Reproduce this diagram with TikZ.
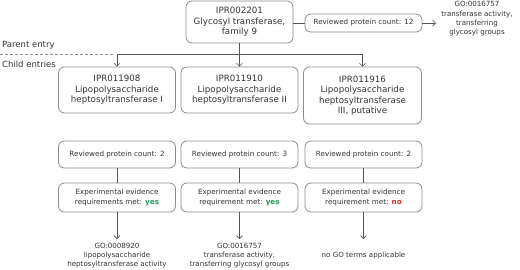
\documentclass[tikz,border=0pt]{standalone}
\usepackage{fontspec}
\setmainfont{DejaVu Sans}
\usetikzlibrary{arrows.meta}
\definecolor{boxgray}{HTML}{8C8C8C}
\definecolor{linegray}{HTML}{555555}
\definecolor{txt}{HTML}{333333}
\definecolor{yesgreen}{HTML}{1E9E5A}
\definecolor{nored}{HTML}{D0312D}
\begin{document}
\begin{tikzpicture}[x=1pt,y=-1pt,
 box/.style={draw=boxgray, line width=0.8pt, rounded corners=6pt, align=center, text=txt, inner sep=0pt},
 big/.style={box, font=\fontsize{8.7}{10.5}\selectfont},
 small/.style={box, font=\fontsize{7.2}{10}\selectfont},
 gotext/.style={align=center, text=txt, font=\fontsize{7.1}{9}\selectfont, inner sep=0pt},
 lbl/.style={anchor=west, text=txt, font=\fontsize{8.5}{10}\selectfont, inner sep=0pt},
 conn/.style={draw=linegray, line width=0.6pt},
 arr/.style={conn, -{Straight Barb[length=3pt,width=6pt]}},
]
\useasboundingbox (0,0) rectangle (520,269);

% parent
\node[big, minimum width=107pt, minimum height=42pt] (top) at (239.5,22) {IPR002201\\Glycosyl transferase,\\family 9};
\node[small, minimum width=117pt, minimum height=18pt] (rev12) at (363.5,23) {Reviewed protein count: 12};
\node[gotext, font=\fontsize{7.1}{9.3}\selectfont] (go0) at (477,19) {GO:0016757\\transferase activity,\\transferring\\glycosyl groups};
\coordinate (goin) at (436,23);
\draw[conn] (top.east |- rev12.west) -- (rev12.west);
\draw[arr] (rev12.east) -- (goin);

% labels
\node[lbl] (parent) at (2,45) {Parent entry};
\node[lbl] (child) at (2,64) {Child entries};

% children
\node[big, minimum width=117pt, minimum height=46pt] (c1) at (117,90) {IPR011908\\Lipopolysaccharide\\heptosyltransferase I};
\node[big, minimum width=117pt, minimum height=46pt] (c2) at (239.5,90) {IPR011910\\Lipopolysaccharide\\heptosyltransferase II};
\node[big, minimum width=118pt, minimum height=57pt] (c3) at (362.5,95.5) {IPR011916\\Lipopolysaccharide\\heptosyltransferase\\III, putative};

\coordinate (split) at (239.5,54);
\coordinate (dstart) at (0,54);
\draw[dashed, draw=boxgray, line width=0.6pt, dash pattern=on 3pt off 2pt] (dstart) -- ([xshift=-3pt]c1.north |- split);
\draw[conn] (c1.north |- split) -- (c3.north |- split);
\draw[arr] (top.south) -- (c2.north);
\draw[arr] (c1.north |- split) -- (c1.north);
\draw[arr] (c3.north |- split) -- (c3.north);

% reviewed counts
\node[small, minimum width=117pt, minimum height=27pt] (r1) at (117,154.5) {Reviewed protein count: 2};
\node[small, minimum width=117pt, minimum height=27pt] (r2) at (239.5,154.5) {Reviewed protein count: 3};
\node[small, minimum width=117pt, minimum height=27pt] (r3) at (363.5,154.5) {Reviewed protein count: 2};

% experimental evidence
\node[small, minimum width=117pt, minimum height=29pt] (e1) at (117,197.5) {Experimental evidence\\requirements met: \textcolor{yesgreen}{\bfseries yes}};
\node[small, minimum width=117pt, minimum height=29pt] (e2) at (239.5,197.5) {Experimental evidence\\requirement met: \textcolor{yesgreen}{\bfseries yes}};
\node[small, minimum width=117pt, minimum height=29pt] (e3) at (363.5,197.5) {Experimental evidence\\requirement met: \textcolor{nored}{\bfseries no}};

\draw[conn] (r1) -- (e1);
\draw[conn] (r2) -- (e2);
\draw[conn] (r3) -- (e3);

% GO results
\node[gotext, anchor=north] (g1) at (117,243) {GO:0008920\\lipopolysaccharide\\heptosyltransferase activity};
\node[gotext, anchor=north] (g2) at (239.5,243) {GO:0016757\\transferase activity,\\transferring glycosyl groups};
\node[gotext, anchor=north] (g3) at (363.5,252) {no GO terms applicable};
\coordinate (a1) at (117,239);
\coordinate (a2) at (239.5,239);
\coordinate (a3) at (363.5,239);

\draw[arr] (e1.south) -- (a1);
\draw[arr] (e2.south) -- (a2);
\draw[arr] (e3.south) -- (a3);
\end{tikzpicture}
\end{document}
